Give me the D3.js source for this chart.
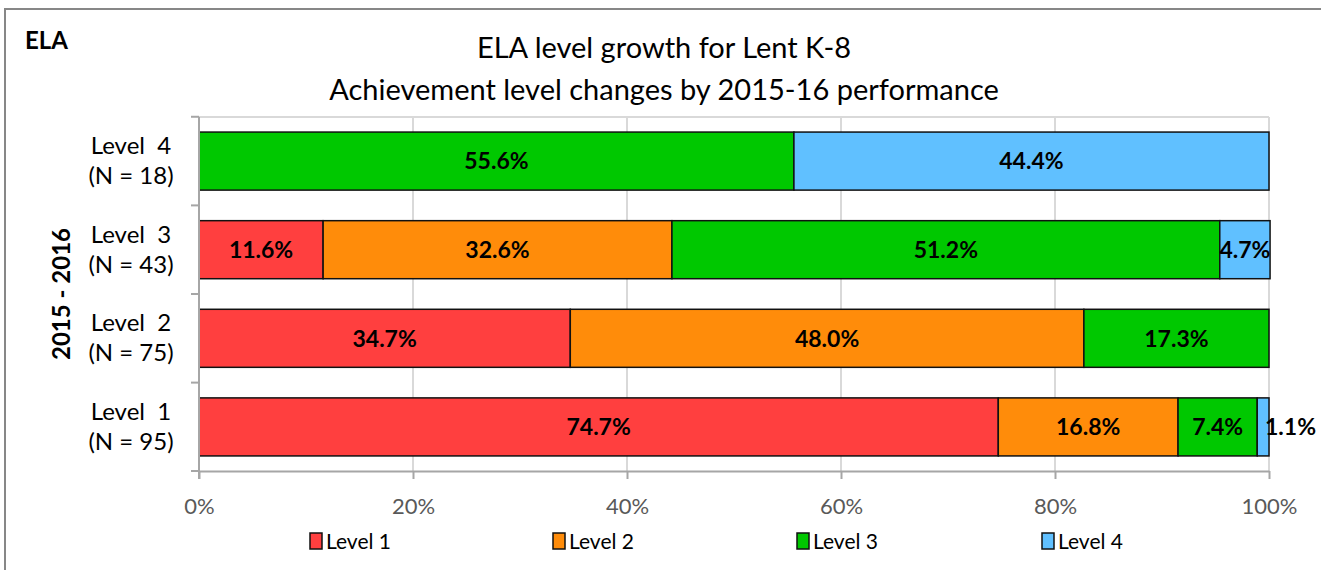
<!DOCTYPE html>
<html lang="en">
<head>
<meta charset="UTF-8">
<title>ELA level growth</title>
<script src="https://d3js.org/d3.v7.min.js"></script>
<style>
  body { margin: 0; background: #fff; }
  text { font-family: Lato, "Open Sans", sans-serif; }
</style>
</head>
<body>
<div id="chart"></div>
<script>
// data
const categories = ["Level 4", "Level 3", "Level 2", "Level 1"];
const counts = [18, 43, 75, 95];
const series = ["Level 1", "Level 2", "Level 3", "Level 4"];
const level1 = [0, 11.6, 34.7, 74.7];
const level2 = [0, 32.6, 48.0, 16.8];
const level3 = [55.6, 51.2, 17.3, 7.4];
const level4 = [44.4, 4.7, 0, 1.1];
const tickValues = [0, 20, 40, 60, 80, 100];
const colors = ["#ff3f3f", "#ff8c0a", "#00c800", "#60c0ff"];

const width = 1321, height = 570;
const svg = d3.select("#chart").append("svg")
  .attr("width", width).attr("height", height);

// outer frame
svg.append("rect")
  .attr("x", 5).attr("y", 9)
  .attr("width", 1330).attr("height", 600)
  .attr("fill", "none").attr("stroke", "#878787").attr("stroke-width", 2);

const x = d3.scaleLinear().domain([0, 100]).range([199, 1269]);
const y = d3.scaleBand().domain(categories).range([117, 471])
  .paddingInner(0.345).paddingOuter(0.17);
const labelRight = 1316; // labels are kept inside the chart area

// gridlines
svg.append("g").selectAll("line")
  .data(tickValues.slice(1))
  .join("line")
  .attr("x1", d => x(d)).attr("x2", d => x(d))
  .attr("y1", 117).attr("y2", 471)
  .attr("stroke", "#d9d9d9").attr("stroke-width", 2);
svg.append("line")
  .attr("x1", x(0)).attr("x2", x(100)).attr("y1", 117).attr("y2", 117)
  .attr("stroke", "#d9d9d9").attr("stroke-width", 2);

// stacked data
const rows = categories.map((c, i) => ({
  cat: c, "Level 1": level1[i], "Level 2": level2[i],
  "Level 3": level3[i], "Level 4": level4[i]
}));
const stacked = d3.stack().keys(series)(rows);

const layers = svg.append("g").selectAll("g")
  .data(stacked)
  .join("g")
  .attr("fill", (d, i) => colors[i]);

layers.selectAll("rect")
  .data(d => d.filter(s => s[1] - s[0] > 0))
  .join("rect")
  .attr("x", d => x(d[0]))
  .attr("y", d => y(d.data.cat))
  .attr("width", d => x(d[1]) - x(d[0]))
  .attr("height", y.bandwidth())
  .attr("stroke", "#111").attr("stroke-width", 1.5);

// value labels
const valLabels = svg.append("g").selectAll("text")
  .data(stacked.flatMap(layer => layer.filter(s => s[1] - s[0] > 0)))
  .join("text")
  .attr("x", d => x((d[0] + d[1]) / 2))
  .attr("y", d => y(d.data.cat) + y.bandwidth() / 2)
  .attr("dy", "0.36em")
  .attr("text-anchor", "middle")
  .attr("fill", "#000")
  .style("font-size", "23px").style("font-weight", "bold")
  .text(d => d3.format(".1f")(d[1] - d[0]) + "%");

// push a label that runs into its left neighbour out to the chart edge
const lastRight = {};
valLabels.each(function (d) {
  const w = this.getComputedTextLength();
  let cx = +this.getAttribute("x");
  const prev = lastRight[d.data.cat];
  if (prev !== undefined && cx - w / 2 < prev) cx = labelRight - w / 2;
  if (cx + w / 2 > labelRight) cx = labelRight - w / 2;
  this.setAttribute("x", cx);
  lastRight[d.data.cat] = cx + w / 2;
});

// axes
const xAxis = d3.axisBottom(x).tickValues(tickValues)
  .tickFormat(d => d + "%").tickSize(8).tickSizeOuter(0);
const gx = svg.append("g").attr("transform", "translate(0,471)").call(xAxis);
gx.select(".domain").attr("stroke", "#a6a6a6").attr("stroke-width", 2);
gx.selectAll(".tick line").attr("stroke", "#a6a6a6").attr("stroke-width", 2);
gx.selectAll(".tick text").attr("fill", "#595959").attr("dy", "1.45em")
  .style("font-size", "22px");

const gy = svg.append("g");
gy.append("line").attr("x1", 199).attr("x2", 199).attr("y1", 117).attr("y2", 479)
  .attr("stroke", "#a6a6a6").attr("stroke-width", 2);
gy.selectAll("line.tk")
  .data(categories.concat(["end"]))
  .join("line").attr("class", "tk")
  .attr("x1", 191).attr("x2", 199)
  .attr("y1", (d, i) => i < categories.length ? y(d) - y.step() * y.paddingInner() / 2 : 471)
  .attr("y2", (d, i) => i < categories.length ? y(d) - y.step() * y.paddingInner() / 2 : 471)
  .attr("stroke", "#a6a6a6").attr("stroke-width", 2);

const catLabels = gy.selectAll("text.cat")
  .data(categories)
  .join("text").attr("class", "cat")
  .attr("text-anchor", "middle")
  .attr("fill", "#000")
  .style("font-size", "24px");
catLabels.append("tspan")
  .attr("x", 131).attr("y", d => y(d) + y.bandwidth() / 2 - 7)
  .attr("xml:space", "preserve")
  .text(d => d.replace(" ", "  "));
catLabels.append("tspan")
  .attr("x", 131).attr("y", d => y(d) + y.bandwidth() / 2 + 23)
  .text((d, i) => "(N = " + counts[i] + ")");

// y axis title
svg.append("text")
  .attr("transform", "translate(70,294) rotate(-90)")
  .attr("text-anchor", "middle")
  .style("font-size", "24px").style("font-weight", "bold")
  .text("2015 - 2016");

// titles
svg.append("text").attr("x", 25).attr("y", 49)
  .style("font-size", "24px").style("font-weight", "bold").text("ELA");
svg.append("text").attr("x", 664).attr("y", 58).attr("text-anchor", "middle")
  .style("font-size", "29px").text("ELA level growth for Lent K-8");
svg.append("text").attr("x", 664).attr("y", 100).attr("text-anchor", "middle")
  .style("font-size", "29px").text("Achievement level changes by 2015-16 performance");

// legend
const legendX = [310, 553, 797, 1042];
const legend = svg.append("g").selectAll("g")
  .data(series)
  .join("g")
  .attr("transform", (d, i) => `translate(${legendX[i]},533)`);
legend.append("rect")
  .attr("width", 12).attr("height", 16)
  .attr("fill", (d, i) => colors[i])
  .attr("stroke", "#111").attr("stroke-width", 1.5);
legend.append("text")
  .attr("x", 16).attr("y", 8).attr("dy", "0.36em")
  .style("font-size", "21px").text(d => d);
</script>
</body>
</html>
